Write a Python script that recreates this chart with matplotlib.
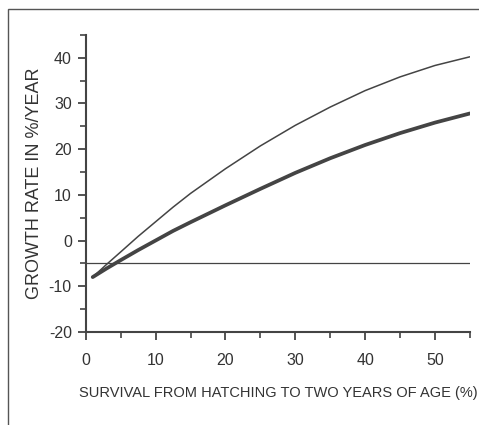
import numpy as np
import matplotlib.pyplot as plt
from matplotlib.patches import Rectangle
from matplotlib.ticker import MultipleLocator

plt.rcParams['font.family'] = ['Liberation Sans', 'DejaVu Sans']
plt.rcParams['axes.unicode_minus'] = False

# survival from hatching to two years (%)
survival = [1, 3, 5, 7.5, 10, 12.5, 15, 20, 25, 30, 35, 40, 45, 50, 55]
# growth rate in %/year, upper (thin) curve
growth_thin = [-8.0, -5.2, -2.5, 0.9, 4.1, 7.3, 10.3, 15.7, 20.7, 25.2, 29.2, 32.8, 35.8, 38.3, 40.2]
# growth rate in %/year, lower (thick) curve
growth_thick = [-8.0, -6.1, -4.3, -2.1, 0.0, 2.1, 4.0, 7.7, 11.3, 14.8, 18.0, 20.9, 23.5, 25.8, 27.8]
# horizontal reference level
ref_x = [0, 55]
ref_y = [-5, -5]

col = '#444444'

fig = plt.figure(figsize=(4.79, 4.25), dpi=100)
ax = fig.add_axes([0.179, 0.219, 0.802, 0.699])

# outer frame (only top and left edges visible)
fig.add_artist(Rectangle((0.016, -0.1), 1.2, 1.079, transform=fig.transFigure,
                         fill=False, edgecolor='#555555', lw=1.0))

ax.plot(ref_x, ref_y, color=col, lw=0.9)
ax.plot(survival, growth_thin, color=col, lw=1.1, solid_capstyle='round')
ax.plot(survival, growth_thick, color=col, lw=2.7, solid_capstyle='round')

ax.set_xlim(0, 55)
ax.set_ylim(-20, 45)
ax.xaxis.set_minor_locator(MultipleLocator(5))
ax.yaxis.set_minor_locator(MultipleLocator(5))
ax.set_xticks([0, 10, 20, 30, 40, 50])
ax.set_yticks([-20, -10, 0, 10, 20, 30, 40])

for s in ['top', 'right']:
    ax.spines[s].set_visible(False)
for s in ['left', 'bottom']:
    ax.spines[s].set_color(col)
    ax.spines[s].set_linewidth(1.5)

ax.tick_params(which='major', length=6, width=1.3, color=col, labelsize=11.5,
               labelcolor='#333333', pad=4)
ax.tick_params(which='minor', length=4, width=1.2, color=col)
ax.tick_params(axis='x', pad=9)

ax.set_xlabel('SURVIVAL FROM HATCHING TO TWO YEARS OF AGE (%)', fontsize=10.5,
              color='#333333', labelpad=13)
ax.set_ylabel('GROWTH RATE IN %/YEAR', fontsize=13, color='#333333', labelpad=4)

fig.savefig('out.png', dpi=100)
